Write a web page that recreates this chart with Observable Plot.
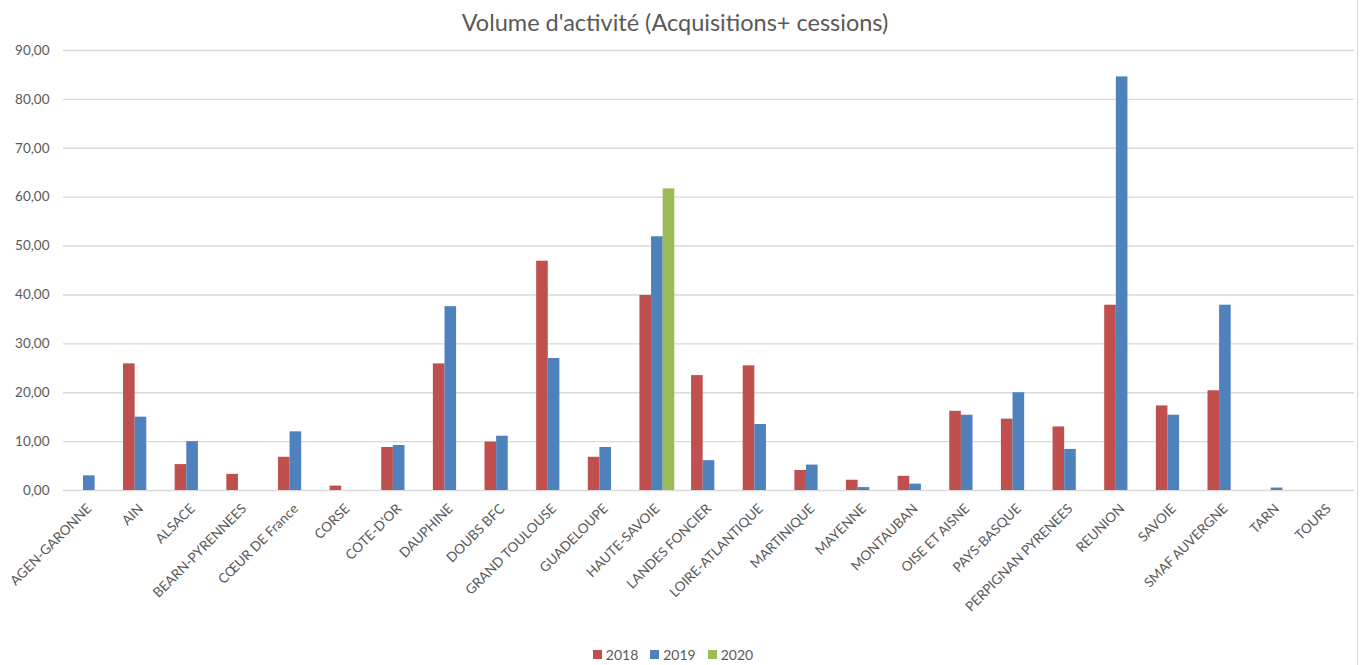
<!DOCTYPE html>
<html lang="fr">
<head>
<meta charset="utf-8">
<script src="https://cdn.jsdelivr.net/npm/d3@7"></script>
<script src="https://cdn.jsdelivr.net/npm/@observablehq/plot@0.6"></script>
<style>
  html, body { margin: 0; padding: 0; background: #fff; }
  body { width: 1364px; height: 665px; overflow: hidden; position: relative; font-family: Lato, "Open Sans", sans-serif; color: #595959; }
  #title { height: 36px; line-height: 44px; font-size: 23.5px; text-align: center; padding-right: 14px; white-space: nowrap; }
  #chart svg g[aria-label^="y-axis"] { font-size: 13.5px; }
  #chart svg g[aria-label^="x-axis"] { font-size: 13.5px; }
  #legend { height: 33px; box-sizing: border-box; padding-top: 11px; padding-right: 18px; display: flex; justify-content: center; }
  #legend .item { display: flex; align-items: center; height: 22px; margin: 0 6px; font-size: 14px; }
  #legend .sw { width: 9px; height: 9px; margin-right: 4px; }
  #edge { position: absolute; left: 1357px; top: 0; width: 1px; height: 665px; background: #d6d6d6; }
</style>
</head>
<body>
<div id="title">Volume d'activité (Acquisitions+ cessions)</div>
<div id="chart"></div>
<div id="legend"></div>
<div id="edge"></div>
<script>
// Categories (structures) on the x axis
const categories = [
  "AGEN-GARONNE", "AIN", "ALSACE", "BEARN-PYRENNEES", "CŒUR DE France", "CORSE",
  "COTE-D'OR", "DAUPHINE", "DOUBS BFC", "GRAND TOULOUSE", "GUADELOUPE", "HAUTE-SAVOIE",
  "LANDES FONCIER", "LOIRE-ATLANTIQUE", "MARTINIQUE", "MAYENNE", "MONTAUBAN",
  "OISE ET AISNE", "PAYS-BASQUE", "PERPIGNAN PYRENEES", "REUNION", "SAVOIE",
  "SMAF AUVERGNE", "TARN", "TOURS"
];

// Activity volume per year (null = no activity)
const v2018 = [null, 25.9, 5.3, 3.3, 6.8, 0.9, 8.8, 25.9, 9.9, 46.9, 6.8, 39.9,
  23.5, 25.5, 4.1, 2.1, 2.9, 16.2, 14.6, 13.0, 37.9, 17.3, 20.4, null, null];
const v2019 = [3.0, 15.0, 10.0, null, 12.0, null, 9.2, 37.6, 11.1, 27.0, 8.8, 51.9,
  6.1, 13.5, 5.2, 0.6, 1.3, 15.4, 20.0, 8.4, 84.6, 15.4, 37.9, 0.5, null];
const v2020 = [null, null, null, null, null, null, null, null, null, null, null, 61.7,
  null, null, null, null, null, null, null, null, null, null, null, null, null];

const years = ["2018", "2019", "2020"];
const seriesValues = [v2018, v2019, v2020];
const colors = ["#C0504D", "#4F81BD", "#9BBB59"];

// Y axis ticks
const yTicks = [0, 10, 20, 30, 40, 50, 60, 70, 80, 90];
const formatTick = (d) => d.toFixed(2).replace(".", ",");

// Long table built from the series
const rows = [];
years.forEach((year, k) => {
  categories.forEach((category, i) => {
    const value = seriesValues[k][i];
    if (value != null) rows.push({category, year, value});
  });
});

const width = 1364;
const marginLeft = 63, marginRight = 10;
const paddingInner = 0.775;
// Each category band holds one bar width; the three years sit side by side around its centre
const bandStep = (width - marginLeft - marginRight) / categories.length;
const barWidth = bandStep * (1 - paddingInner);

const chart = Plot.plot({
  width,
  height: 596,
  marginTop: 14,
  marginBottom: 142,
  marginLeft,
  marginRight,
  style: {fontFamily: "Lato, 'Open Sans', sans-serif", color: "#595959", background: "transparent", overflow: "visible"},
  x: {
    domain: categories,
    paddingInner,
    paddingOuter: paddingInner / 2,
    round: false,
    tickSize: 0,
    tickPadding: 16,
    tickRotate: -45,
    label: null
  },
  y: {
    domain: [0, 90],
    ticks: yTicks,
    tickFormat: formatTick,
    tickSize: 0,
    tickPadding: 14,
    label: null
  },
  marks: [
    Plot.ruleY(yTicks, {stroke: "#d9d9d9", strokeWidth: 1.4}),
    ...years.map((year, k) => Plot.barY(rows.filter((d) => d.year === year), {
      x: "category",
      y: "value",
      fill: colors[k],
      dx: (k - 1) * barWidth
    }))
  ]
});
document.getElementById("chart").appendChild(chart);

// Legend
const legend = document.getElementById("legend");
years.forEach((year, k) => {
  const item = document.createElement("div");
  item.className = "item";
  const sw = document.createElement("span");
  sw.className = "sw";
  sw.style.background = colors[k];
  const label = document.createElement("span");
  label.textContent = year;
  item.append(sw, label);
  legend.appendChild(item);
});
</script>
</body>
</html>
